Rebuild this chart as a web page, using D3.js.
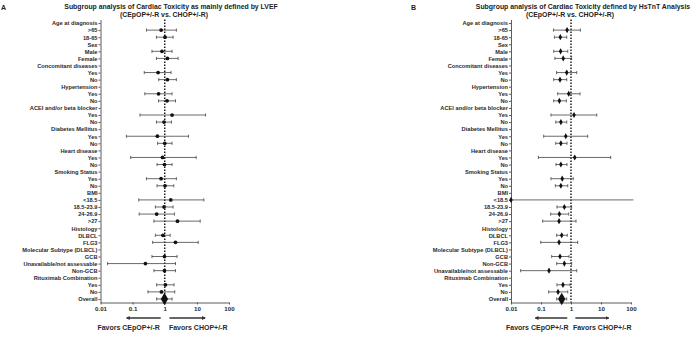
<!DOCTYPE html>
<html>
<head>
<meta charset="utf-8">
<script src="https://cdn.jsdelivr.net/npm/d3@7"></script>
<style>
  body { margin: 0; background: #fff; }
  svg text { font-family: "Liberation Sans", Arial, sans-serif; font-weight: bold; }
</style>
</head>
<body>
<svg id="chart" width="700" height="337"></svg>
<script>
// row labels (top to bottom)
const labelsA = ["Age at diagnosis", ">65", "18-65", "Sex", "Male", "Female",
  "Concomitant diseases", "Yes", "No", "Hypertension", "Yes", "No",
  "ACEI and/or beta blocker", "Yes", "No", "Diabetes Mellitus", "Yes", "No",
  "Heart disease", "Yes", "No", "Smoking Status", "Yes", "No",
  "BMI", "<18.5", "18.5-23.9", "24-26.9", ">27", "Histology", "DLBCL", "FLG3",
  "Molecular Subtype (DLBCL)", "GCB", "Unavailable/not assessable", "Non-GCB",
  "Rituximab Combination", "Yes", "No", "Overall"];
const labelsB = ["Age at diagnosis", ">65", "18-65", "Sex", "Male", "Female",
  "Concomitant diseases", "Yes", "No", "Hypertension", "Yes", "No",
  "ACEI and/or beta blocker", "Yes", "No", "Diabetes Mellitus", "Yes", "No",
  "Heart disease", "Yes", "No", "Smoking Status", "Yes", "No",
  "BMI", "<18.5", "18.5-23.9", "24-26.9", ">27", "Histology", "DLBCL", "FLG3",
  "Molecular Subtype (DLBCL)", "GCB", "Non-GCB", "Unavailable/not assessable",
  "Rituximab Combination", "Yes", "No", "Overall"];

// panel A: LVEF (null = header row)
const estA = [null, 0.77, 1.02, null, 0.82, 1.21, null, 0.62, 1.21, null, 0.64, 1.18,
  null, 1.69, 0.95, null, 0.59, 1.0, null, 0.85, 0.98, null, 0.77, 1.02,
  null, 1.54, 0.95, 0.56, 2.49, null, 0.88, 2.16, null, 0.98, 0.25, 0.98,
  null, 1.05, 0.79, 0.98];
const lowA = [null, 0.27, 0.55, null, 0.40, 0.55, null, 0.23, 0.65, null, 0.24, 0.64,
  null, 0.17, 0.55, null, 0.064, 0.60, null, 0.087, 0.575, null, 0.27, 0.575,
  null, 0.155, 0.51, 0.16, 0.46, null, 0.51, 0.42, null, 0.40, 0.0166, 0.46,
  null, 0.56, 0.30, 0.56];
const highA = [null, 2.3, 1.82, null, 1.69, 2.6, null, 1.57, 2.3, null, 1.69, 2.16,
  null, 18.6, 1.62, null, 5.5, 1.69, null, 9.5, 1.69, null, 2.3, 1.91,
  null, 16.5, 1.82, 2.0, 12.7, null, 1.47, 11, null, 2.42, 2.16, 2.16,
  null, 1.95, 2.05, 1.69];

// panel B: HsTnT
const estB = [null, 0.74, 0.44, null, 0.45, 0.55, null, 0.72, 0.43, null, 0.84, 0.41,
  null, 1.26, 0.46, null, 0.67, 0.46, null, 1.33, 0.46, null, 0.51, 0.46,
  null, 0.01, 0.60, 0.41, 0.40, null, 0.49, 0.40, null, 0.43, 0.60, 0.185,
  null, 0.54, 0.37, 0.49];
const lowB = [null, 0.26, 0.28, null, 0.265, 0.29, null, 0.33, 0.265, null, 0.36, 0.265,
  null, 0.215, 0.31, null, 0.123, 0.31, null, 0.082, 0.316, null, 0.215, 0.30,
  null, null, 0.34, 0.21, 0.114, null, 0.333, 0.098, null, 0.227, 0.333, 0.021,
  null, 0.34, 0.18, 0.333];
const highB = [null, 2.05, 0.72, null, 0.78, 1.05, null, 1.55, 0.72, null, 2.0, 0.70,
  null, 7.2, 0.72, null, 3.6, 0.735, null, 21, 0.735, null, 1.19, 0.78,
  null, 120, 1.05, 0.84, 1.47, null, 0.75, 1.67, null, 0.86, 1.05, 1.55,
  null, 0.93, 0.78, 0.72];

const tickValues = [0.01, 0.1, 1, 10, 100];

const svg = d3.select("#chart");

function drawPanel(opt) {
  const g = svg.append("g");
  const n = opt.labels.length;

  const x = d3.scaleLog().domain([0.01, 100]).range([opt.x0, opt.x1]);
  const y = d3.scalePoint().domain(d3.range(n)).range([19.5, 302.5]).padding(0.5);

  // y axis with row labels
  const yAxis = g.append("g")
    .attr("transform", `translate(${opt.x0},0)`)
    .call(d3.axisLeft(y).tickSize(2).tickSizeOuter(0).tickPadding(1)
      .tickFormat(i => opt.labels[i]));
  yAxis.selectAll("text").attr("font-size", 5.7).attr("fill", "#2a2a2a");
  yAxis.selectAll("line, path").attr("stroke", "#333").attr("stroke-width", 0.8);

  // x axis
  const xAxis = g.append("g")
    .attr("transform", "translate(0,302.5)")
    .call(d3.axisBottom(x).tickValues(tickValues).tickSize(2).tickSizeOuter(0).tickPadding(2)
      .tickFormat(d => String(d)));
  xAxis.selectAll("text").attr("font-size", 6.2).attr("fill", "#2a2a2a");
  xAxis.selectAll("line, path").attr("stroke", "#333").attr("stroke-width", 0.8);

  // reference line at 1
  g.append("line")
    .attr("x1", x(1)).attr("x2", x(1))
    .attr("y1", 19.5).attr("y2", 302.5)
    .attr("stroke", "#111").attr("stroke-width", 1.4)
    .attr("stroke-dasharray", "1.6,1.4");

  const rows = d3.range(n).filter(i => opt.est[i] !== null);

  // confidence intervals
  const ci = g.selectAll(".ci").data(rows).enter().append("g").attr("class", "ci");
  ci.append("line")
    .attr("x1", i => opt.low[i] === null ? opt.lineStart : x(opt.low[i]))
    .attr("x2", i => x(opt.high[i]))
    .attr("y1", i => y(i)).attr("y2", i => y(i))
    .attr("stroke", "#444").attr("stroke-width", 0.8);
  ci.filter(i => opt.low[i] !== null && opt.high[i] <= 100)
    .selectAll(".cap")
    .data(i => [[opt.low[i], i], [opt.high[i], i]])
    .enter().append("line")
    .attr("x1", d => x(d[0])).attr("x2", d => x(d[0]))
    .attr("y1", d => y(d[1]) - 1.6).attr("y2", d => y(d[1]) + 1.6)
    .attr("stroke", "#444").attr("stroke-width", 0.8);

  // point estimates
  g.selectAll(".pt").data(rows).enter().append("path")
    .attr("class", "pt")
    .attr("transform", i => `translate(${x(opt.est[i])},${y(i)})`)
    .attr("d", i => d3.symbol()
      .type(opt.labels[i] === "Overall" ? d3.symbolDiamond : opt.symbol)
      .size(opt.labels[i] === "Overall" ? 46 : 11)())
    .attr("fill", "#111");

  // title
  g.append("text").attr("x", opt.panelX).attr("y", 9.5)
    .attr("font-size", 7).attr("fill", "#222").text(opt.panel);
  g.append("text").attr("x", opt.titleX).attr("y", 8.5)
    .attr("text-anchor", "middle").attr("font-size", 6.9).attr("fill", "#222")
    .text(opt.title);
  g.append("text").attr("x", opt.subX).attr("y", 16.5)
    .attr("text-anchor", "middle").attr("font-size", 6.9).attr("fill", "#222")
    .text("(CEpOP+/-R vs. CHOP+/-R)");

  // direction arrows
  const arrows = [[0.75, 0.065], [1.4, 18]];
  g.selectAll(".arrow").data(arrows).enter().append("line")
    .attr("x1", d => x(d[0])).attr("x2", d => x(d[1]))
    .attr("y1", 318).attr("y2", 318)
    .attr("stroke", "#333").attr("stroke-width", 1.3)
    .attr("marker-end", "url(#arrowhead)");
  g.selectAll(".favor").data([[0.075, "Favors CEpOP+/-R"], [11, "Favors CHOP+/-R"]])
    .enter().append("text")
    .attr("x", d => x(d[0])).attr("y", 330)
    .attr("text-anchor", "middle").attr("font-size", 7)
    .attr("fill", "#2a2a2a").text(d => d[1]);
}

svg.append("defs").append("marker")
  .attr("id", "arrowhead")
  .attr("viewBox", "0 0 10 10").attr("refX", 8).attr("refY", 5)
  .attr("markerWidth", 3).attr("markerHeight", 3).attr("orient", "auto")
  .append("path").attr("d", "M0,0L10,5L0,10z").attr("fill", "#333");

drawPanel({
  labels: labelsA, est: estA, low: lowA, high: highA,
  x0: 100.5, x1: 229, symbol: d3.symbolCircle,
  panel: "A", panelX: 1, titleX: 171, subX: 164,
  title: "Subgroup analysis of Cardiac Toxicity as mainly defined by LVEF"
});
drawPanel({
  labels: labelsB, est: estB, low: lowB, high: highB,
  x0: 511, x1: 631, symbol: d3.symbolDiamond, lineStart: 511,
  panel: "B", panelX: 411, titleX: 583, subX: 570,
  title: "Subgroup analysis of Cardiac Toxicity defined by HsTnT Analysis"
});
</script>
</body>
</html>
